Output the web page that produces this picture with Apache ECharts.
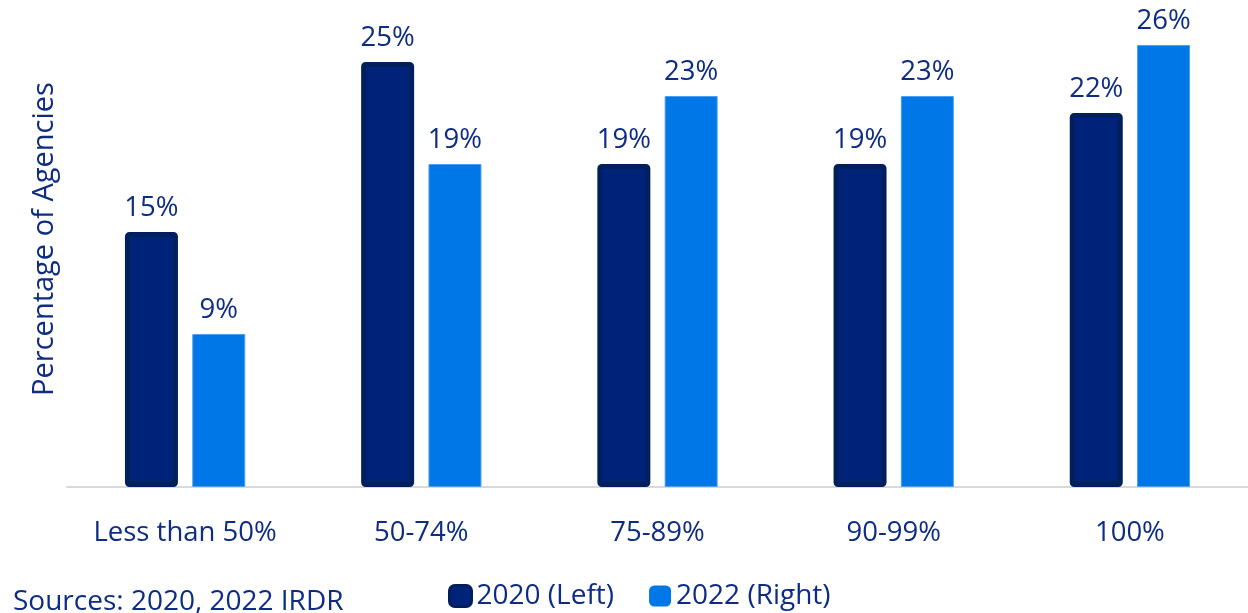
<!DOCTYPE html>
<html>
<head>
<meta charset="utf-8">
<title>Percentage of Agencies</title>
<script src="https://cdn.jsdelivr.net/npm/echarts@6/dist/echarts.min.js"></script>
<style>
  html, body { margin: 0; padding: 0; background: #ffffff; }
  #chart { width: 1248px; height: 613px; }
</style>
</head>
<body>
<div id="chart"></div>
<script>
// Share of agencies by compliance band, 2020 vs 2022 (values in percent)
const categories = ['Less than 50%', '50-74%', '75-89%', '90-99%', '100%'];
const values2020 = [15, 25, 19, 19, 22];
const values2022 = [9, 19, 23, 23, 26];
const seriesNames = ['2020 (Left)', '2022 (Right)'];
const yAxisTitle = 'Percentage of Agencies';
const sourceNote = 'Sources: 2020, 2022 IRDR';

const FONT = '"Open Sans", "Noto Sans", sans-serif';
const TEXT = '#0d2c82';
const NAVY = '#00237a';
const NAVY_EDGE = '#001f5c';
const BLUE = '#0077e6';

const chart = echarts.init(document.getElementById('chart'), null, { renderer: 'canvas' });

chart.setOption({
  animation: false,
  backgroundColor: '#ffffff',
  textStyle: { fontFamily: FONT, color: TEXT },
  grid: { left: 67, right: -2, top: 11, bottom: 126, containLabel: false },
  xAxis: {
    type: 'category',
    data: categories,
    axisLine: { show: true, lineStyle: { color: '#d9d9d9', width: 2 } },
    axisTick: { show: false },
    axisLabel: {
      color: TEXT,
      fontSize: 27.5,
      fontFamily: FONT,
      margin: 32,
      interval: 0,
      hideOverlap: false
    }
  },
  yAxis: {
    type: 'value',
    min: 0,
    max: 28,
    show: false,
    splitLine: { show: false }
  },
  legend: {
    left: 448,
    top: 582,
    padding: 0,
    itemWidth: 22,
    itemHeight: 21,
    itemGap: 35,
    textStyle: { color: TEXT, fontSize: 28, fontFamily: FONT },
    data: [
      { name: seriesNames[0], itemStyle: { borderWidth: 3, borderColor: NAVY_EDGE } },
      { name: seriesNames[1], itemStyle: { borderWidth: 0 } }
    ]
  },
  graphic: [
    {
      type: 'text',
      x: 45,
      y: 239,
      rotation: Math.PI / 2,
      style: {
        text: yAxisTitle,
        x: 0,
        y: 0,
        align: 'center',
        verticalAlign: 'middle',
        fill: TEXT,
        font: '29px ' + FONT
      }
    },
    {
      type: 'text',
      left: 13,
      top: 588,
      style: {
        text: sourceNote,
        fill: TEXT,
        font: '28px ' + FONT
      }
    }
  ],
  series: [
    {
      name: seriesNames[0],
      type: 'bar',
      data: values2020,
      barWidth: 53,
      barGap: '27%',
      itemStyle: {
        color: NAVY,
        borderColor: NAVY_EDGE,
        borderWidth: 5,
        borderRadius: 2
      },
      label: {
        show: true,
        position: 'top',
        distance: 10,
        formatter: '{c}%',
        color: TEXT,
        fontSize: 27.5,
        fontFamily: FONT
      }
    },
    {
      name: seriesNames[1],
      type: 'bar',
      data: values2022,
      barWidth: 53,
      itemStyle: {
        color: BLUE,
        borderColor: '#4f9ff0',
        borderWidth: 1
      },
      label: {
        show: true,
        position: 'top',
        distance: 10,
        formatter: '{c}%',
        color: TEXT,
        fontSize: 27.5,
        fontFamily: FONT
      }
    }
  ]
});
</script>
</body>
</html>
